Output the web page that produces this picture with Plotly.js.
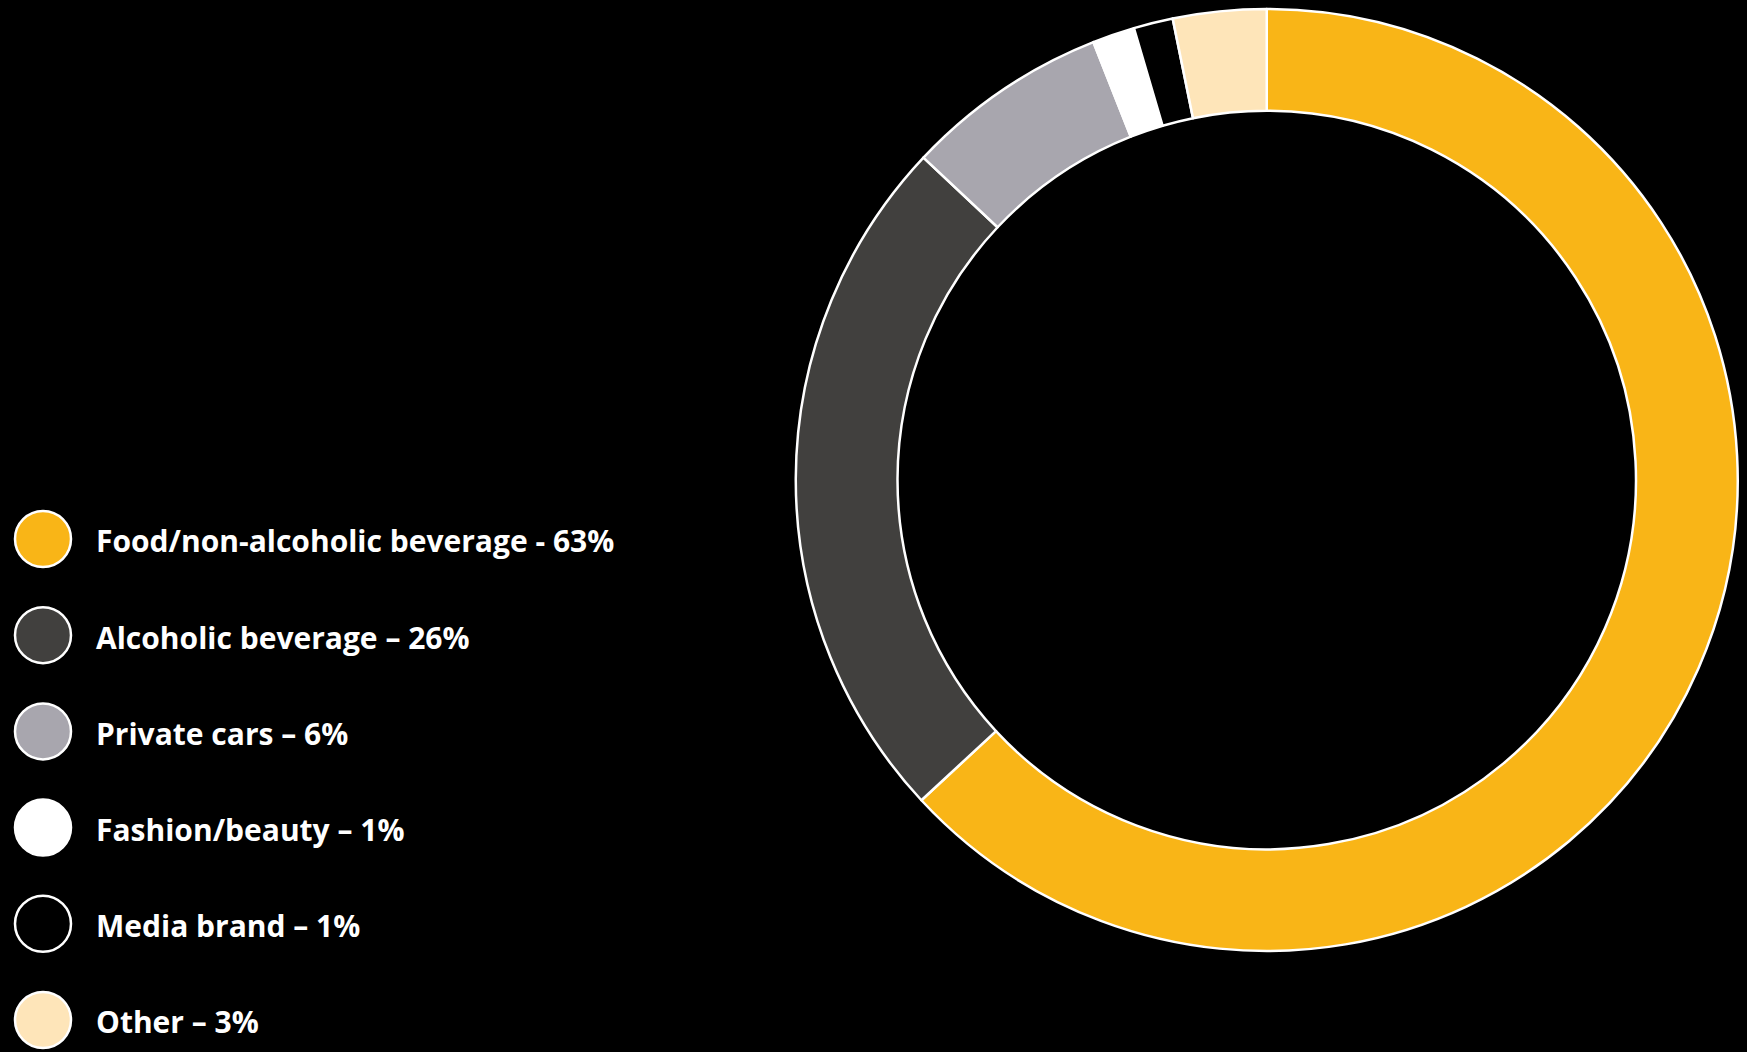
<!DOCTYPE html>
<html>
<head>
<meta charset="utf-8">
<script src="https://cdn.plot.ly/plotly-3.0.1.min.js"></script>
<style>
  html, body { margin: 0; padding: 0; background: #000; }
  #chart { width: 1747px; height: 1052px; }
</style>
</head>
<body>
<div id="chart"></div>
<script>
var categories = ["Food/non-alcoholic beverage", "Alcoholic beverage", "Private cars", "Fashion/beauty", "Media brand", "Other"];
var sliceValues = [63.1, 23.9, 7.0, 1.45, 1.35, 3.2];
var legendLabels = ["Food/non-alcoholic beverage - 63%", "Alcoholic beverage \u2013 26%", "Private cars \u2013 6%", "Fashion/beauty \u2013 1%", "Media brand \u2013 1%", "Other \u2013 3%"];
var colors = ["#F9B517", "#41403E", "#A8A6AE", "#FFFFFF", "#000000", "#FEE5B9"];

var legendIdx = categories.map(function (c, i) { return i; });
var FONT = "'Open Sans', Lato, sans-serif";

var pie = {
  type: "pie",
  labels: categories,
  values: sliceValues,
  sort: false,
  direction: "clockwise",
  rotation: 0,
  hole: 0.784,
  marker: { colors: colors, line: { color: "#FFFFFF", width: 2.5 } },
  textinfo: "none",
  hoverinfo: "label+percent",
  showlegend: false,
  domain: { x: [0.4555, 0.9947], y: [0.096, 0.9914] }
};

var legendMarkers = {
  type: "scatter",
  mode: "markers",
  x: legendIdx.map(function () { return 0; }),
  y: legendIdx,
  marker: { size: 56, color: colors, line: { color: "#FFFFFF", width: 2.5 } },
  hoverinfo: "skip",
  showlegend: false,
  cliponaxis: false
};

var annotations = legendLabels.map(function (t, i) {
  return {
    x: 51, y: i + 0.02, xref: "x", yref: "y",
    text: t, showarrow: false, xanchor: "left", yanchor: "middle",
    font: { family: FONT, size: 30, color: "#FFFFFF", weight: "bold" }
  };
});

var layout = {
  width: 1747, height: 1052,
  margin: { l: 0, r: 0, t: 0, b: 0 },
  paper_bgcolor: "#000000",
  plot_bgcolor: "#000000",
  xaxis: { range: [-43, 1704], visible: false, fixedrange: true },
  yaxis: { range: [5.333, -5.603], visible: false, fixedrange: true },
  annotations: annotations,
  showlegend: false
};

Plotly.newPlot("chart", [pie, legendMarkers], layout, { displayModeBar: false, staticPlot: true });
</script>
</body>
</html>
